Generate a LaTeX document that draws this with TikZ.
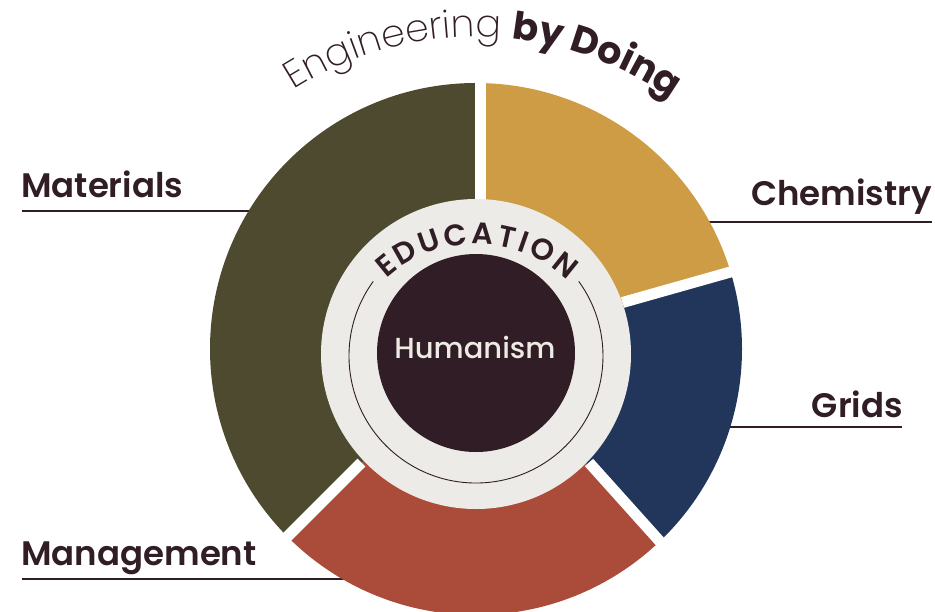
\documentclass[tikz,border=0pt]{standalone}
\usepackage{fontspec}
\setmainfont{Poppins}
\IfFontExistsTF{Poppins ExtraLight}{\newfontfamily\lightf{Poppins ExtraLight}}{\newfontfamily\lightf{Poppins Light}}
\IfFontExistsTF{Poppins SemiBold}{\newfontfamily\medf{Poppins SemiBold}}{\newfontfamily\medf{Poppins Medium}[FakeBold=0.8]}
\newfontfamily\humf{Poppins Medium}
\usetikzlibrary{calc,decorations.text}
\definecolor{olivec}{HTML}{4E4A2F}
\definecolor{goldc}{HTML}{CD9C45}
\definecolor{navyc}{HTML}{21365A}
\definecolor{rustc}{HTML}{AB4C3A}
\definecolor{ringc}{HTML}{EDEBE7}
\definecolor{darkc}{HTML}{301D25}
\definecolor{ink}{HTML}{301D25}
\definecolor{humtext}{HTML}{EEEAE4}
\begin{document}
\begin{tikzpicture}[x=1pt,y=-1pt,
  lbl/.style={anchor=base west, inner sep=0pt, font=\medf\fontsize{34}{37}\selectfont, text=ink},
  uline/.style={draw=ink, line width=1.6pt},
  gapline/.style={draw=white, line width=11pt, line cap=butt}]
\useasboundingbox (0,0) rectangle (935,611);
\clip (0,0) rectangle (935,611);
\coordinate (C) at (476,349);
\coordinate (I) at (476,354);
\coordinate (Tc) at (476,356);
\coordinate (T) at (476,377);

% labels
\node[lbl] (mat) at (21,197) {Materials};
\node[lbl, anchor=base east] (chem) at (932,205) {Chemistry};
\node[lbl, anchor=base east] (grid) at (903,417) {Grids};
\node[lbl] (man) at (21,565) {Management};

% underline ends (hidden under the wedges)
\coordinate (matend) at (300,211);
\coordinate (chemend) at (650,222);
\coordinate (gridend) at (680,427);
\coordinate (manend) at (420,579);
\draw[uline] ([xshift=1pt,yshift=-14pt]mat.base west) -- (matend);
\draw[uline] ([yshift=-17pt]chem.base east) -- (chemend);
\draw[uline] ([xshift=-1pt,yshift=-10pt]grid.base east) -- (gridend);
\draw[uline] ([xshift=1pt,yshift=-14pt]man.base west) -- (manend);

% wedges
\fill[olivec] (C) -- ($(C)+(89:266pt)$) arc[start angle=89,end angle=225,radius=266pt] -- cycle;
\fill[rustc] (C) -- ($(C)+(225:266pt)$) arc[start angle=225,end angle=314,radius=266pt] -- cycle;
\fill[navyc] (C) -- ($(C)+(-46:266pt)$) arc[start angle=-46,end angle=17,radius=266pt] -- cycle;
\fill[goldc] (C) -- ($(C)+(17:266pt)$) arc[start angle=17,end angle=89,radius=266pt] -- cycle;

% white gaps
\coordinate (g1a) at (480.5,240); \coordinate (g1b) at (480.5,60);
\coordinate (g2a) at (361.5,462.5); \coordinate (g2b) at (260,564);
\coordinate (g3a) at (589,462.5); \coordinate (g3b) at (690,575);
\coordinate (g4a) at (622.5,302.5); \coordinate (g4b) at (780,258);
\draw[gapline] (g1a) -- (g1b);
\draw[gapline] (g2a) -- (g2b);
\draw[gapline] (g3a) -- (g3b);
\draw[gapline] (g4a) -- (g4b);

% inner ring
\fill[ringc] (I) circle[radius=155pt];
\draw[ink, line width=0.9pt] ($(Tc)+(144:127pt)$) arc[start angle=144,end angle=396,radius=127pt];
\fill[darkc] (476,353) circle[radius=99pt];
\node[anchor=base, inner sep=0pt, font=\humf\fontsize{29}{31}\selectfont, text=humtext] (hum) at (475,358) {Humanism};

% EDUCATION arc text
\path[decorate, decoration={text along path, text align={fit to path}, text color=ink,
  text={|\medf\fontsize{30}{32}\selectfont|EDUCATION}}]
  ($(T)+(132.5:133pt)$) arc[start angle=132.5,end angle=46.5,radius=133pt];

% Engineering by Doing
\path[decorate, decoration={text along path, text align=center, text color=ink,
  text={|\lightf\fontsize{38}{40}\selectfont|Engineering |\bfseries\fontsize{38}{40}\selectfont|by Doing}}]
  ($(T)+(128.7:340pt)$) arc[start angle=128.7,end angle=48.7,radius=340pt];
\end{tikzpicture}
\end{document}
